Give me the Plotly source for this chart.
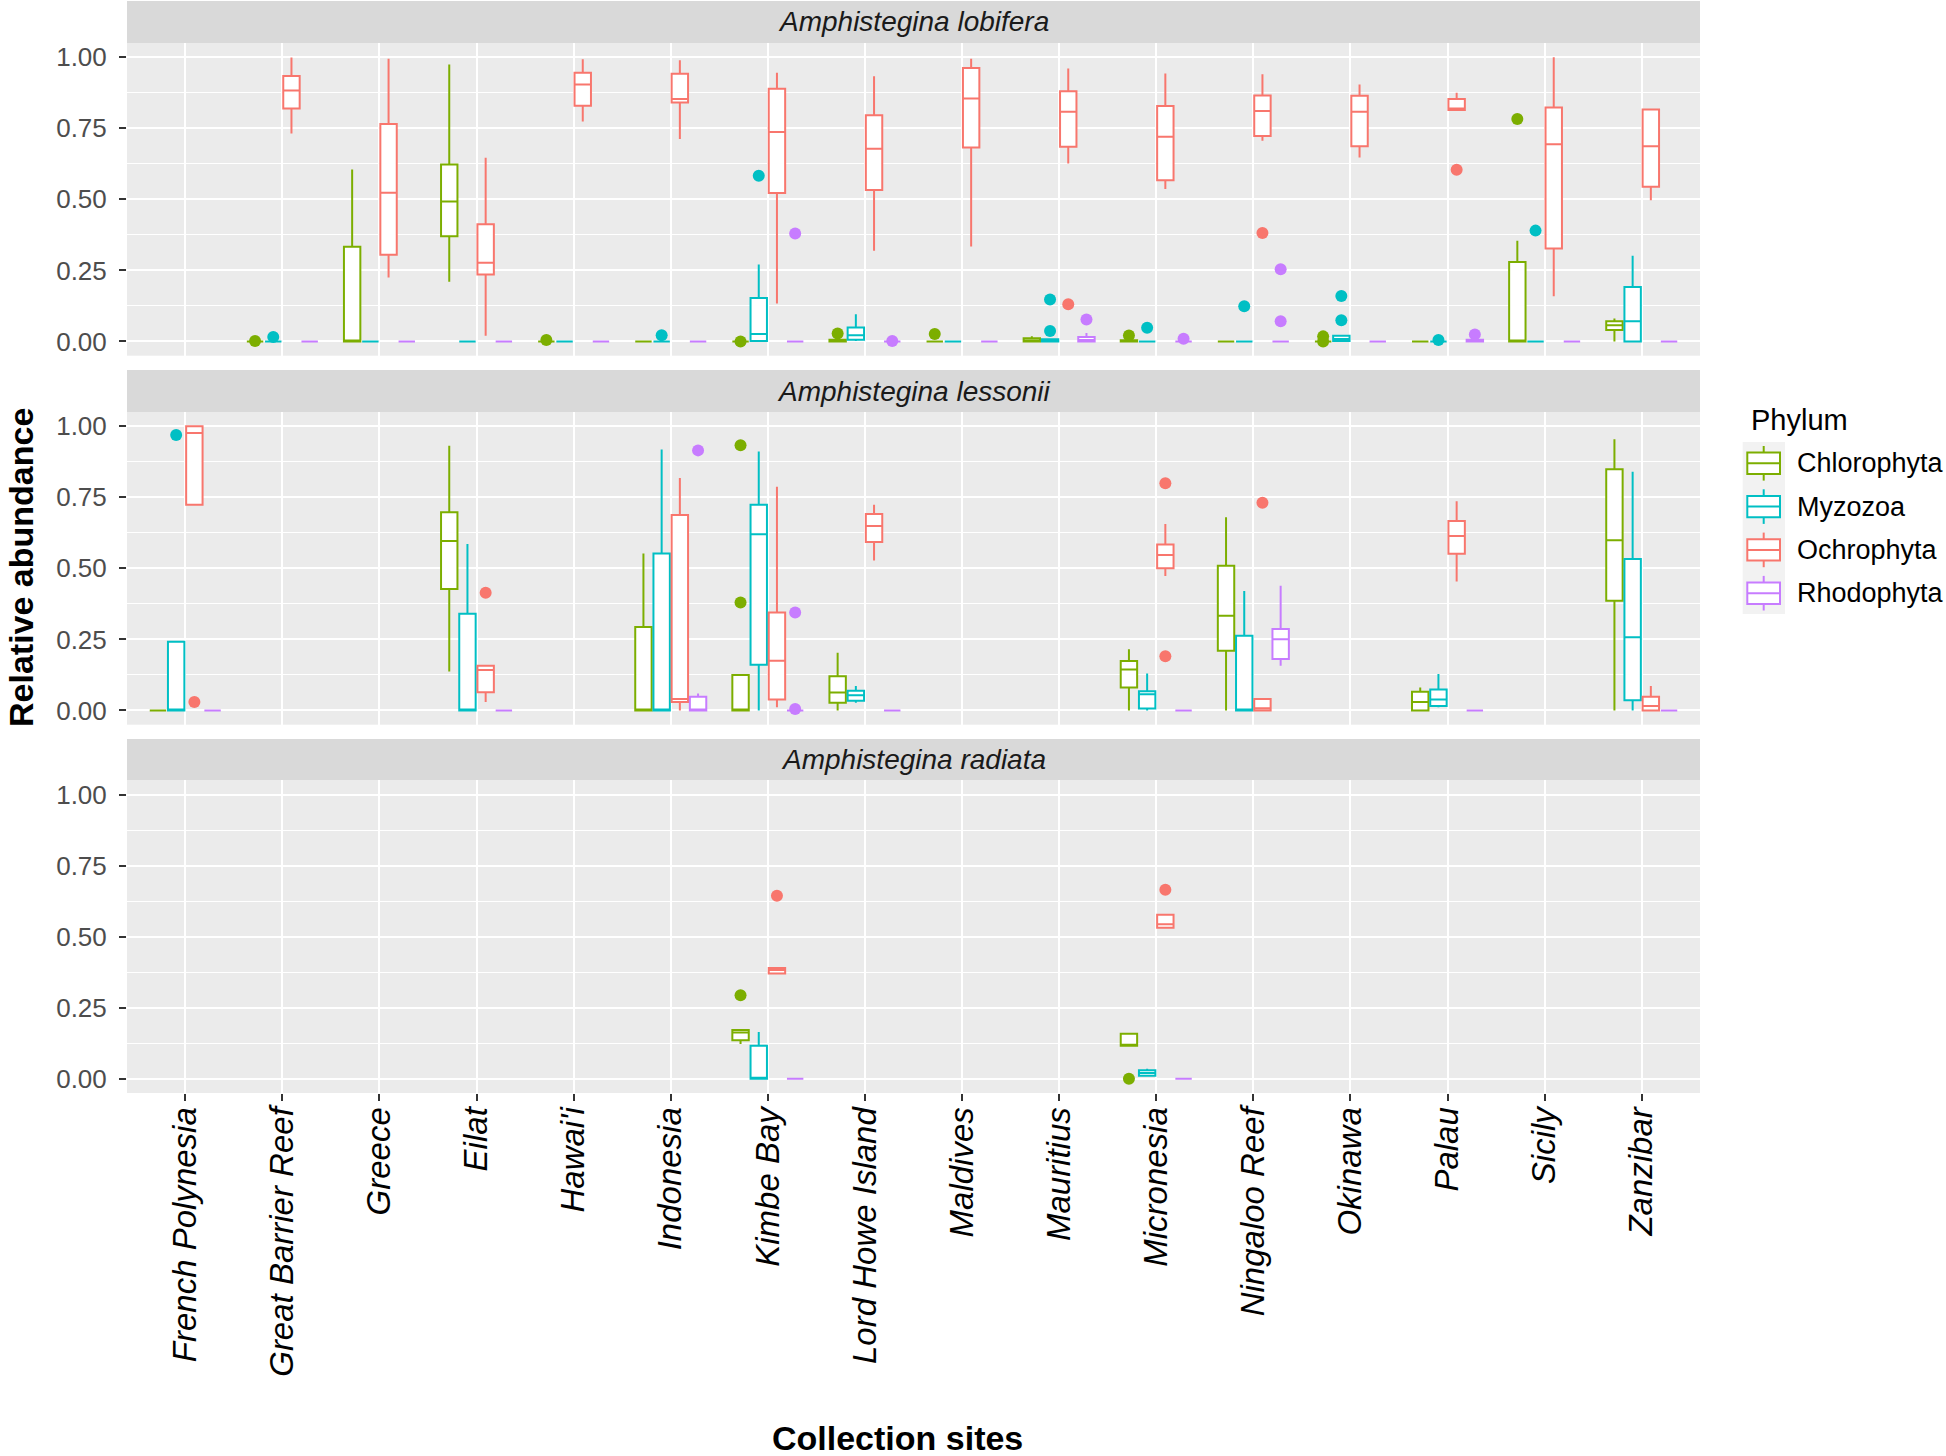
import plotly.graph_objects as go

# ---------------- data ----------------
SITES = ["French Polynesia", "Great Barrier Reef", "Greece", "Eilat", "Hawai'i",
         "Indonesia", "Kimbe Bay", "Lord Howe Island", "Maldives", "Mauritius",
         "Micronesia", "Ningaloo Reef", "Okinawa", "Palau", "Sicily", "Zanzibar"]
PHYLA = ["Chlorophyta", "Myzozoa", "Ochrophyta", "Rhodophyta"]
COLORS = ["#7CAE00", "#00BFC4", "#F8766D", "#C77CFF"]
FACETS = ["Amphistegina lobifera", "Amphistegina lessonii", "Amphistegina radiata"]
Y_TICKS = [0.0, 0.25, 0.5, 0.75, 1.0]
Y_MINOR = [0.125, 0.375, 0.625, 0.875]

Z = (0, 0, 0, 0, 0)  # all-zero box

# box statistics: site -> (lower whisker, q1, median, q3, upper whisker)
lob_chl = {"Great Barrier Reef": Z, "Greece": (0, 0, 0, 0.333, 0.605),
           "Eilat": (0.21, 0.37, 0.492, 0.623, 0.974), "Hawai'i": Z, "Indonesia": Z,
           "Kimbe Bay": Z, "Lord Howe Island": (0, 0, 0, 0.006, 0.006), "Maldives": Z,
           "Mauritius": (0, 0, 0.003, 0.011, 0.018), "Micronesia": (0, 0, 0, 0.004, 0.004),
           "Ningaloo Reef": Z, "Okinawa": Z, "Palau": Z, "Sicily": (0, 0, 0, 0.28, 0.354),
           "Zanzibar": (0, 0.04, 0.057, 0.071, 0.081)}
lob_myz = {"Great Barrier Reef": Z, "Greece": Z, "Eilat": Z, "Hawai'i": Z, "Indonesia": Z,
           "Kimbe Bay": (0, 0.002, 0.026, 0.153, 0.271),
           "Lord Howe Island": (0.002, 0.006, 0.022, 0.049, 0.096), "Maldives": Z,
           "Mauritius": (0, 0, 0.003, 0.008, 0.008), "Micronesia": Z, "Ningaloo Reef": Z,
           "Okinawa": (0, 0.002, 0.009, 0.02, 0.02), "Palau": Z, "Sicily": Z,
           "Zanzibar": (0, 0, 0.071, 0.192, 0.302)}
lob_och = {"Great Barrier Reef": (0.732, 0.82, 0.883, 0.934, 0.999),
           "Greece": (0.225, 0.305, 0.523, 0.765, 0.995),
           "Eilat": (0.02, 0.236, 0.277, 0.412, 0.646),
           "Hawai'i": (0.774, 0.829, 0.904, 0.945, 0.993),
           "Indonesia": (0.712, 0.841, 0.853, 0.942, 0.989),
           "Kimbe Bay": (0.134, 0.522, 0.737, 0.889, 0.945),
           "Lord Howe Island": (0.319, 0.533, 0.678, 0.796, 0.933),
           "Maldives": (0.334, 0.682, 0.855, 0.962, 0.995),
           "Mauritius": (0.626, 0.685, 0.808, 0.88, 0.96),
           "Micronesia": (0.536, 0.567, 0.72, 0.828, 0.943),
           "Ningaloo Reef": (0.706, 0.723, 0.811, 0.865, 0.94),
           "Okinawa": (0.647, 0.687, 0.808, 0.864, 0.904),
           "Palau": (0.814, 0.814, 0.82, 0.853, 0.875),
           "Sicily": (0.159, 0.327, 0.694, 0.823, 1.0),
           "Zanzibar": (0.497, 0.544, 0.687, 0.816, 0.82)}
lob_rho = {"Great Barrier Reef": Z, "Greece": Z, "Eilat": Z, "Hawai'i": Z, "Indonesia": Z,
           "Kimbe Bay": Z, "Lord Howe Island": Z, "Maldives": Z,
           "Mauritius": (0, 0, 0.005, 0.016, 0.03), "Micronesia": Z, "Ningaloo Reef": Z,
           "Okinawa": Z, "Palau": (0, 0, 0, 0.006, 0.006), "Sicily": Z, "Zanzibar": Z}

les_chl = {"French Polynesia": Z, "Eilat": (0.137, 0.427, 0.596, 0.697, 0.931),
           "Indonesia": (0, 0, 0, 0.294, 0.552), "Kimbe Bay": (0, 0, 0, 0.125, 0.125),
           "Lord Howe Island": (0, 0.027, 0.063, 0.12, 0.203),
           "Micronesia": (0, 0.081, 0.144, 0.174, 0.215),
           "Ningaloo Reef": (0, 0.21, 0.333, 0.509, 0.68),
           "Palau": (0, 0, 0.03, 0.066, 0.081), "Zanzibar": (0, 0.386, 0.599, 0.849, 0.954)}
les_myz = {"French Polynesia": (0, 0, 0, 0.242, 0.242), "Eilat": (0, 0, 0, 0.34, 0.586),
           "Indonesia": (0, 0, 0, 0.552, 0.918), "Kimbe Bay": (0, 0.161, 0.62, 0.724, 0.911),
           "Lord Howe Island": (0.027, 0.034, 0.054, 0.069, 0.086),
           "Micronesia": (0, 0.007, 0.057, 0.068, 0.13),
           "Ningaloo Reef": (0, 0, 0, 0.263, 0.42),
           "Palau": (0.011, 0.016, 0.039, 0.074, 0.128),
           "Zanzibar": (0, 0.036, 0.258, 0.533, 0.84)}
les_och = {"French Polynesia": (0.724, 0.724, 0.976, 1.0, 1.0),
           "Eilat": (0.03, 0.064, 0.142, 0.157, 0.157),
           "Indonesia": (0, 0.03, 0.04, 0.688, 0.818),
           "Kimbe Bay": (0.011, 0.039, 0.175, 0.345, 0.787),
           "Lord Howe Island": (0.528, 0.593, 0.649, 0.691, 0.724),
           "Micronesia": (0.473, 0.5, 0.547, 0.584, 0.656),
           "Ningaloo Reef": (0, 0, 0.008, 0.04, 0.04),
           "Palau": (0.454, 0.551, 0.614, 0.667, 0.736),
           "Zanzibar": (0, 0, 0.016, 0.048, 0.086)}
les_rho = {"French Polynesia": Z, "Eilat": Z, "Indonesia": (0, 0, 0, 0.048, 0.06),
           "Kimbe Bay": Z, "Lord Howe Island": Z, "Micronesia": Z,
           "Ningaloo Reef": (0.157, 0.181, 0.251, 0.287, 0.439), "Palau": Z, "Zanzibar": Z}

rad_chl = {"Kimbe Bay": (0.122, 0.136, 0.163, 0.172, 0.172),
           "Micronesia": (0.116, 0.116, 0.118, 0.158, 0.158)}
rad_myz = {"Kimbe Bay": (0, 0, 0, 0.116, 0.165), "Micronesia": (0.008, 0.011, 0.02, 0.03, 0.035)}
rad_och = {"Kimbe Bay": (0.37, 0.37, 0.383, 0.39, 0.39),
           "Micronesia": (0.531, 0.531, 0.544, 0.577, 0.577)}
rad_rho = {"Kimbe Bay": Z, "Micronesia": Z}

# outliers: (site, value)
lob_chl_out = [("Great Barrier Reef", 0.002), ("Hawai'i", 0.005), ("Kimbe Bay", 0.0),
               ("Lord Howe Island", 0.028), ("Maldives", 0.026), ("Micronesia", 0.021),
               ("Okinawa", 0.018), ("Okinawa", 0.0), ("Sicily", 0.783)]
lob_myz_out = [("Great Barrier Reef", 0.016), ("Indonesia", 0.022), ("Kimbe Bay", 0.583),
               ("Mauritius", 0.148), ("Mauritius", 0.037), ("Micronesia", 0.048),
               ("Ningaloo Reef", 0.124), ("Okinawa", 0.16), ("Okinawa", 0.075),
               ("Palau", 0.005), ("Sicily", 0.39)]
lob_och_out = [("Mauritius", 0.131), ("Ningaloo Reef", 0.382), ("Palau", 0.604)]
lob_rho_out = [("Kimbe Bay", 0.38), ("Lord Howe Island", 0.002), ("Mauritius", 0.077),
               ("Micronesia", 0.01), ("Ningaloo Reef", 0.254), ("Ningaloo Reef", 0.071),
               ("Palau", 0.025)]
les_chl_out = [("Kimbe Bay", 0.933), ("Kimbe Bay", 0.38)]
les_myz_out = [("French Polynesia", 0.969)]
les_och_out = [("French Polynesia", 0.03), ("Eilat", 0.414), ("Micronesia", 0.799),
               ("Micronesia", 0.191), ("Ningaloo Reef", 0.731)]
les_rho_out = [("Indonesia", 0.915), ("Kimbe Bay", 0.345), ("Kimbe Bay", 0.005)]
rad_chl_out = [("Kimbe Bay", 0.294), ("Micronesia", 0.0)]
rad_myz_out = []
rad_och_out = [("Kimbe Bay", 0.644), ("Micronesia", 0.665)]
rad_rho_out = []

STATS = [[lob_chl, lob_myz, lob_och, lob_rho],
         [les_chl, les_myz, les_och, les_rho],
         [rad_chl, rad_myz, rad_och, rad_rho]]
OUTS = [[lob_chl_out, lob_myz_out, lob_och_out, lob_rho_out],
        [les_chl_out, les_myz_out, les_och_out, les_rho_out],
        [rad_chl_out, rad_myz_out, rad_och_out, rad_rho_out]]

# ---------------- layout geometry (pixels) ----------------
W, H = 1946, 1456
PX_L, PX_R, PX_T, PX_B = 127, 1700, 43, 1093
ROWS = [(43, 355.7), (412, 724.7), (780.3, 1093)]
STRIPS = [(1, 43), (370, 412), (739, 780.3)]
DODGE = 0.1875
BOX_W = 0.169
FONT = "Liberation Sans"


def px(x):
    return (x - PX_L) / (PX_R - PX_L)


def py(y):
    return (PX_B - y) / (PX_B - PX_T)


fig = go.Figure()

for r in range(3):
    ax = "" if r == 0 else str(r + 1)
    for k in range(4):
        stats = STATS[r][k]
        sites = [s for s in SITES if s in stats]
        xs = [SITES.index(s) + 1 + (k - 1.5) * DODGE for s in sites]
        fig.add_trace(go.Box(
            x=xs,
            lowerfence=[stats[s][0] for s in sites],
            q1=[stats[s][1] for s in sites],
            median=[stats[s][2] for s in sites],
            q3=[stats[s][3] for s in sites],
            upperfence=[stats[s][4] for s in sites],
            width=BOX_W, whiskerwidth=0, boxpoints=False,
            fillcolor="white", line=dict(color=COLORS[k], width=2),
            xaxis="x" + ax, yaxis="y" + ax, showlegend=False, name=PHYLA[k]))
        outs = OUTS[r][k]
        if outs:
            fig.add_trace(go.Scatter(
                x=[SITES.index(s) + 1 + (k - 1.5) * DODGE for s, v in outs],
                y=[v for s, v in outs], mode="markers",
                marker=dict(color=COLORS[k], size=12, line=dict(width=0)),
                xaxis="x" + ax, yaxis="y" + ax, showlegend=False, name=PHYLA[k]))

layout = dict(
    width=W, height=H,
    margin=dict(l=PX_L, r=W - PX_R, t=PX_T, b=H - PX_B, pad=0),
    paper_bgcolor="white", plot_bgcolor="#EBEBEB",
    font=dict(family=FONT, color="#1A1A1A"),
    showlegend=False,
)

for r in range(3):
    ax = "" if r == 0 else str(r + 1)
    top, bot = ROWS[r]
    last = (r == 2)
    layout["xaxis" + ax] = dict(
        domain=[0, 1], anchor="y" + ax, range=[0.4, 16.6],
        tickvals=list(range(1, len(SITES) + 1)),
        ticktext=["<i>%s</i>" % s for s in SITES],
        showticklabels=last, ticks="outside" if last else "",
        ticklen=7, tickwidth=2, tickcolor="#333333", tickangle=-90,
        ticklabelstandoff=-7,
        tickfont=dict(size=33, color="black", family=FONT),
        showgrid=True, gridcolor="white", gridwidth=2.2,
        zeroline=False, showline=False, fixedrange=True)
    layout["yaxis" + ax] = dict(
        domain=[py(bot), py(top)], anchor="x" + ax, range=[-0.05, 1.05],
        tickvals=Y_TICKS, ticktext=["%.2f" % v for v in Y_TICKS],
        ticks="outside", ticklen=7, tickwidth=2, tickcolor="#333333",
        ticklabelstandoff=7,
        tickfont=dict(size=26, color="#4D4D4D", family=FONT),
        showgrid=True, gridcolor="white", gridwidth=2.2,
        minor=dict(tickvals=Y_MINOR, showgrid=True, gridcolor="white", gridwidth=1.1, ticks=""),
        zeroline=False, showline=False, fixedrange=True)

shapes = []
annotations = []
for r in range(3):
    s0, s1 = STRIPS[r]
    shapes.append(dict(type="rect", xref="paper", yref="paper", x0=0, x1=1,
                       y0=py(s1), y1=py(s0), fillcolor="#D9D9D9", line=dict(width=0),
                       layer="below"))
    annotations.append(dict(xref="paper", yref="paper", x=0.5, y=py((s0 + s1) / 2),
                            text="<i>%s</i>" % FACETS[r], showarrow=False,
                            xanchor="center", yanchor="middle",
                            font=dict(size=28, color="#1A1A1A", family=FONT)))

# axis titles
annotations.append(dict(xref="paper", yref="paper", x=px(897), y=py(1459),
                        text="<b>Collection sites</b>", showarrow=False,
                        xanchor="center", yanchor="bottom",
                        font=dict(size=34, color="black", family=FONT)))
annotations.append(dict(xref="paper", yref="paper", x=px(21), y=py(568),
                        text="<b>Relative abundance</b>", showarrow=False, textangle=-90,
                        xanchor="center", yanchor="middle",
                        font=dict(size=34, color="black", family=FONT)))

# legend (drawn in ggplot style)
annotations.append(dict(xref="paper", yref="paper", x=px(1749), y=py(420),
                        text="Phylum", showarrow=False, xanchor="left", yanchor="middle",
                        font=dict(size=29, color="black", family=FONT)))
shapes.append(dict(type="rect", xref="paper", yref="paper", x0=px(1742.7), x1=px(1785),
                   y0=py(614), y1=py(442), fillcolor="#F2F2F2", line=dict(width=0)))
for k, ph in enumerate(PHYLA):
    cy = 463.3 + 43.3 * k
    c = COLORS[k]
    shapes.append(dict(type="line", xref="paper", yref="paper", x0=px(1763.7), x1=px(1763.7),
                       y0=py(cy + 17.3), y1=py(cy - 17.3), line=dict(color=c, width=2)))
    shapes.append(dict(type="rect", xref="paper", yref="paper", x0=px(1747.3), x1=px(1780),
                       y0=py(cy + 10.7), y1=py(cy - 10.7), fillcolor="white",
                       line=dict(color=c, width=2)))
    shapes.append(dict(type="line", xref="paper", yref="paper", x0=px(1747.3), x1=px(1780),
                       y0=py(cy), y1=py(cy), line=dict(color=c, width=2)))
    annotations.append(dict(xref="paper", yref="paper", x=px(1795), y=py(cy),
                            text=ph, showarrow=False, xanchor="left", yanchor="middle",
                            font=dict(size=27, color="black", family=FONT)))

layout["shapes"] = shapes
layout["annotations"] = annotations
fig.update_layout(**layout)
# remove the browser's default 8px page margin so the figure fills the window exactly
fig.write_html("out.html", config={"displayModeBar": False},
               post_script="document.body.style.margin='0px';")
